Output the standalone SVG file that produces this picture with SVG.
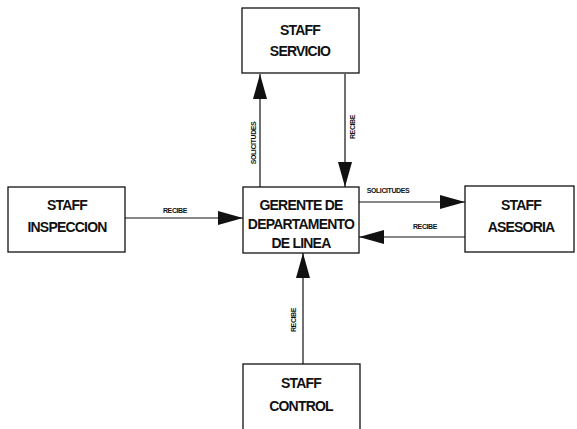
<svg xmlns="http://www.w3.org/2000/svg" width="577" height="429" viewBox="0 0 577 429">
<style>
.box{fill:#fff;stroke:#111;stroke-width:1.3}
.t{font-family:"Liberation Sans",Arial,sans-serif;font-weight:bold;font-size:14px;fill:#111;text-anchor:middle;letter-spacing:-0.8px}
.l{font-family:"Liberation Sans",Arial,sans-serif;font-weight:bold;font-size:7px;fill:#111;text-anchor:middle;letter-spacing:-0.4px}
.c{stroke:#111;stroke-width:1.2;fill:none}
</style>
<defs>
<marker id="ah" markerUnits="userSpaceOnUse" markerWidth="26" markerHeight="16" refX="25" refY="8" orient="auto">
<path d="M0,1 L25,8 L0,15 Z" fill="#111"/>
</marker>
</defs>
<rect width="577" height="429" fill="#fff"/>
<g id="connectors">
<line class="c" x1="260" y1="187" x2="260" y2="74" marker-end="url(#ah)"/>
<line class="c" x1="345" y1="74" x2="345" y2="187" marker-end="url(#ah)"/>
<line class="c" x1="125" y1="218" x2="243" y2="218" marker-end="url(#ah)"/>
<line class="c" x1="359" y1="202" x2="465" y2="202" marker-end="url(#ah)"/>
<line class="c" x1="465" y1="237" x2="359" y2="237" marker-end="url(#ah)"/>
<line class="c" x1="303" y1="364" x2="303" y2="253" marker-end="url(#ah)"/>
<text class="l" transform="translate(256,143) rotate(-90)">SOLICITUDES</text>
<text class="l" transform="translate(355,127) rotate(-90)">RECIBE</text>
<text class="l" x="175" y="213">RECIBE</text>
<text class="l" x="388" y="193">SOLICITUDES</text>
<text class="l" x="425" y="229">RECIBE</text>
<text class="l" transform="translate(296,320) rotate(-90)">RECIBE</text>
</g>
<g id="servicio">
<rect class="box" x="242" y="8" width="117" height="65"/>
<text class="t" x="300" y="35">STAFF</text>
<text class="t" x="300" y="56">SERVICIO</text>
</g>
<g id="gerente">
<rect class="box" x="243" y="187" width="116" height="66"/>
<text class="t" x="301" y="210">GERENTE DE</text>
<text class="t" x="301" y="229">DEPARTAMENTO</text>
<text class="t" x="301" y="248">DE LINEA</text>
</g>
<g id="inspeccion">
<rect class="box" x="8" y="187" width="117" height="65"/>
<text class="t" x="67" y="210">STAFF</text>
<text class="t" x="67" y="232">INSPECCION</text>
</g>
<g id="asesoria">
<rect class="box" x="465" y="186" width="109" height="66"/>
<text class="t" x="521" y="210">STAFF</text>
<text class="t" x="521" y="232">ASESORIA</text>
</g>
<g id="control">
<rect class="box" x="243" y="364" width="117" height="70"/>
<text class="t" x="301" y="388">STAFF</text>
<text class="t" x="301" y="411">CONTROL</text>
</g>
</svg>
